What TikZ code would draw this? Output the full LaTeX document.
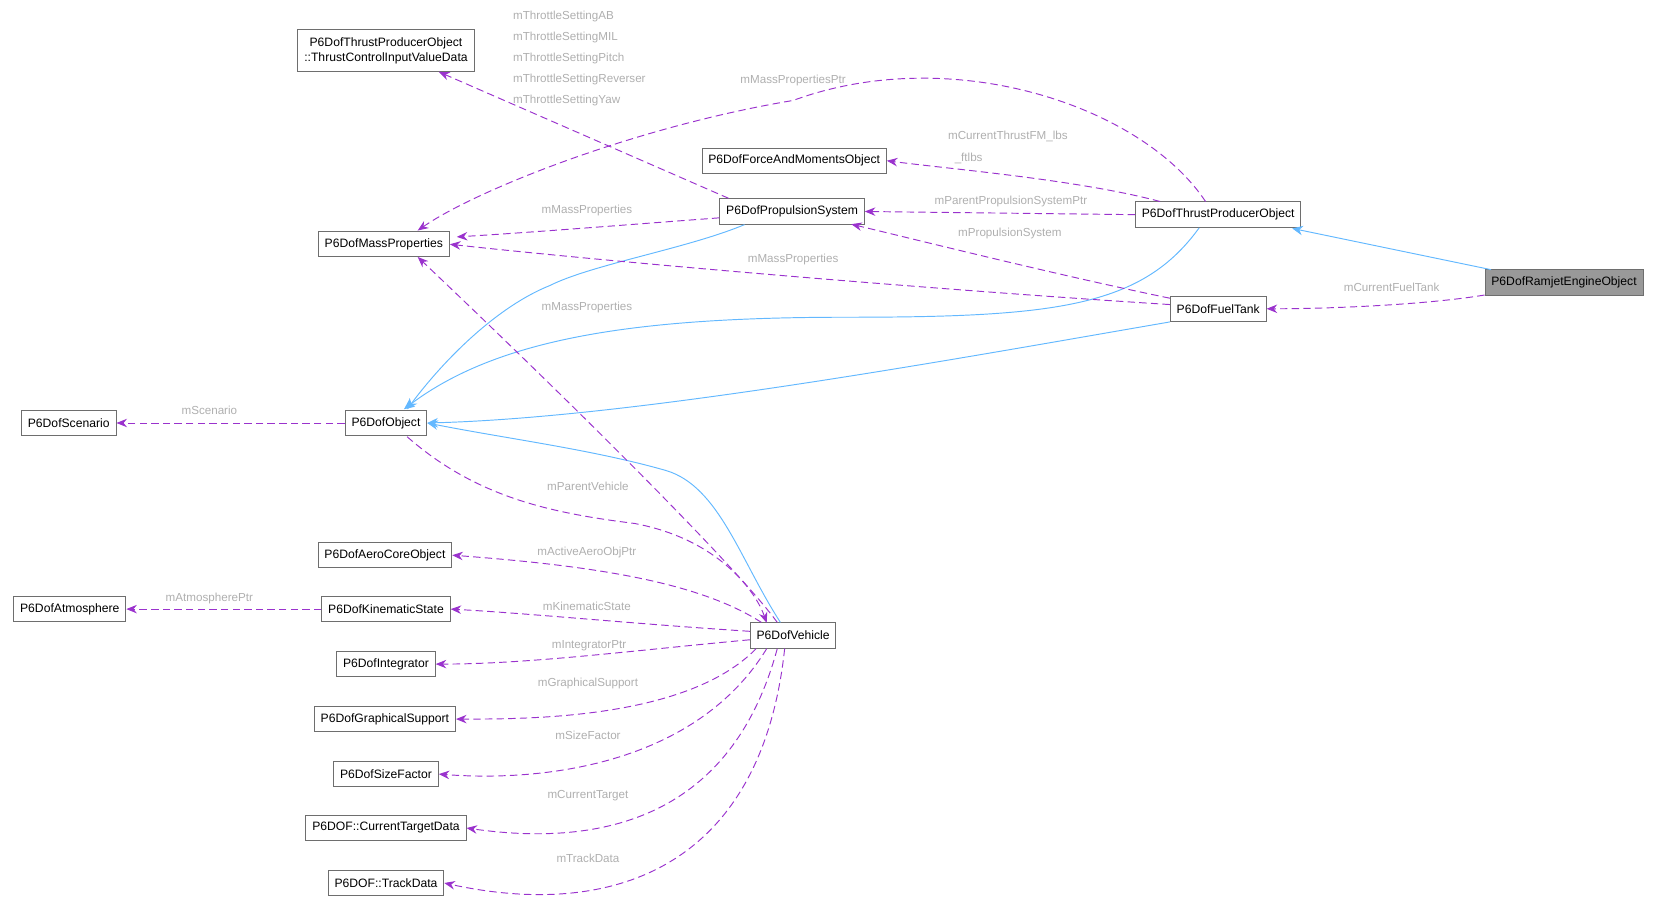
\documentclass[tikz,border=0pt]{standalone}
\usepackage{fontspec}
\setmainfont{Liberation Sans}
\usetikzlibrary{arrows.meta}
\definecolor{pu}{RGB}{154,50,205}
\definecolor{bl}{RGB}{99,184,255}
\definecolor{lb}{RGB}{175,175,175}
\definecolor{bd}{RGB}{110,110,110}
\begin{document}
\begin{tikzpicture}[x=1pt,y=-1pt,
  n/.style={draw=bd,line width=0.9pt,fill=white,font=\fontsize{11.5}{14}\selectfont,inner xsep=6pt,inner ysep=0pt,minimum height=24pt,align=center},
  d/.style={pu,line width=0.9pt,dash pattern=on 7pt off 4pt,-{Stealth[length=10pt,width=8pt]}},
  h/.style={bl,line width=0.9pt,-{Stealth[length=10pt,width=9pt]}},
  l/.style={lb,font=\fontsize{11}{13.5}\selectfont,align=left}]
\useasboundingbox (0,0) rectangle (1566,858);
\node[n,fill={rgb,255:red,153;green,153;blue,153}] (ram) at (1479,267) {P6DofRamjetEngineObject};
\node[n] (tp) at (1152,203) {P6DofThrustProducerObject};
\node[n] (ft) at (1152,292) {P6DofFuelTank};
\node[n] (fm) at (751,152) {P6DofForceAndMomentsObject};
\node[n] (ps) at (749,200) {P6DofPropulsionSystem};
\node[n,minimum height=40pt] (tc) at (365,48) {P6DofThrustProducerObject\\::ThrustControlInputValueData};
\node[n] (mp) at (363,231) {P6DofMassProperties};
\node[n] (sc) at (65,400) {P6DofScenario};
\node[n] (ob) at (365,400) {P6DofObject};
\node[n] (ae) at (364,525) {P6DofAeroCoreObject};
\node[n] (at) at (66,576) {P6DofAtmosphere};
\node[n] (ks) at (365,576) {P6DofKinematicState};
\node[n] (in) at (365,628) {P6DofIntegrator};
\node[n] (gs) at (364,680) {P6DofGraphicalSupport};
\node[n] (sf) at (365,732) {P6DofSizeFactor};
\node[n] (ct) at (365,783) {P6DOF::CurrentTargetData};
\node[n] (td) at (365,835) {P6DOF::TrackData};
\node[n] (ve) at (750,601) {P6DofVehicle};
\coordinate (ramA) at (1410,255);
\coordinate (tpB) at (1222,216);
% inheritance
\draw[h] (ramA) -- (tpB);
\draw[h] (tp.south) ++(-18,0) .. controls (1080,290) and (1000,300) .. (800,300)
   .. controls (600,300) and (470,320) .. (382,387);
\draw[h] (ft.south west) ++(0,0) .. controls (900,340) and (600,395) .. (ob.east);
\draw[h] (ps.south) ++(-45,0) .. controls (650,235) and (560,250) .. (520,270) .. controls (470,290) and (420,340) .. (385,387);
\draw[h] (ve.north) ++(-12,0) .. controls (700,530) and (680,460) .. (630,445) .. controls (560,425) and (480,415) .. (ob.east);
% usage
\draw[d] (ram.west) ++(0,12) .. controls (1350,288) and (1260,292) .. (ft.east);
\draw[d] (tp.north) ++(-55,0) .. controls (1020,170) and (900,160) .. (fm.east);
\draw[d] (tp.west) -- (ps.east);
\draw[d] (tp.north) ++(-12,0) .. controls (1080,100) and (900,40) .. (750,95) .. controls (600,120) and (450,180) .. (395,218);
\draw[d] (ft.west) ++(0,-10) .. controls (1000,260) and (880,230) .. (805,212);
\draw[d] (ft.west) ++(0,-4) .. controls (900,275) and (600,250) .. (mp.east);
\draw[d] (ps.north) ++(-60,0) -- (415,68);
\draw[d] (ps.west) ++(0,6) .. controls (600,212) and (500,220) .. (432,224);
\draw[d] (ob.west) -- (sc.east);
\draw[d] (ve.north) ++(-15,0) .. controls (700,540) and (550,390) .. (395,243);
\draw[d] (385,413) .. controls (450,470) and (520,485) .. (600,495) .. controls (680,510) and (715,560) .. (725,589);
\draw[d] (ve.north) ++(-30,0) .. controls (660,550) and (560,535) .. (ae.east);
\draw[d] (ve.west) ++(0,-4) .. controls (600,590) and (500,580) .. (ks.east);
\draw[d] (ks.west) -- (at.east);
\draw[d] (ve.west) ++(0,4) .. controls (600,615) and (500,628) .. (in.east);
\draw[d] (ve.south) ++(-35,0) .. controls (650,680) and (500,680) .. (gs.east);
\draw[d] (ve.south) ++(-25,0) .. controls (660,720) and (520,740) .. (sf.east);
\draw[d] (ve.south) ++(-15,0) .. controls (690,780) and (560,800) .. (ct.east);
\draw[d] (ve.south) ++(-8,0) .. controls (720,820) and (580,870) .. (td.east);
% labels
\node[l] at (1316,272) {mCurrentFuelTank};
\node[l,anchor=west] at (893,129) {mCurrentThrustFM\_lbs};
\node[l] at (916,150) {\_ftlbs};
\node[l] at (956,191) {mParentPropulsionSystemPtr};
\node[l] at (750,76) {mMassPropertiesPtr};
\node[l] at (955,221) {mPropulsionSystem};
\node[l] at (750,245) {mMassProperties};
\node[l,anchor=north west,inner sep=0pt] at (485,10) {mThrottleSettingAB\\[6.5pt]mThrottleSettingMIL\\[6.5pt]mThrottleSettingPitch\\[6.5pt]mThrottleSettingReverser\\[6.5pt]mThrottleSettingYaw};
\node[l] at (555,199) {mMassProperties};
\node[l] at (555,291) {mMassProperties};
\node[l] at (198,388) {mScenario};
\node[l] at (556,460) {mParentVehicle};
\node[l] at (555,522) {mActiveAeroObjPtr};
\node[l] at (555,573) {mKinematicState};
\node[l] at (198,566) {mAtmospherePtr};
\node[l] at (557,611) {mIntegratorPtr};
\node[l] at (556,646) {mGraphicalSupport};
\node[l] at (556,695) {mSizeFactor};
\node[l] at (556,752) {mCurrentTarget};
\node[l] at (556,812) {mTrackData};
\end{tikzpicture}
\end{document}
